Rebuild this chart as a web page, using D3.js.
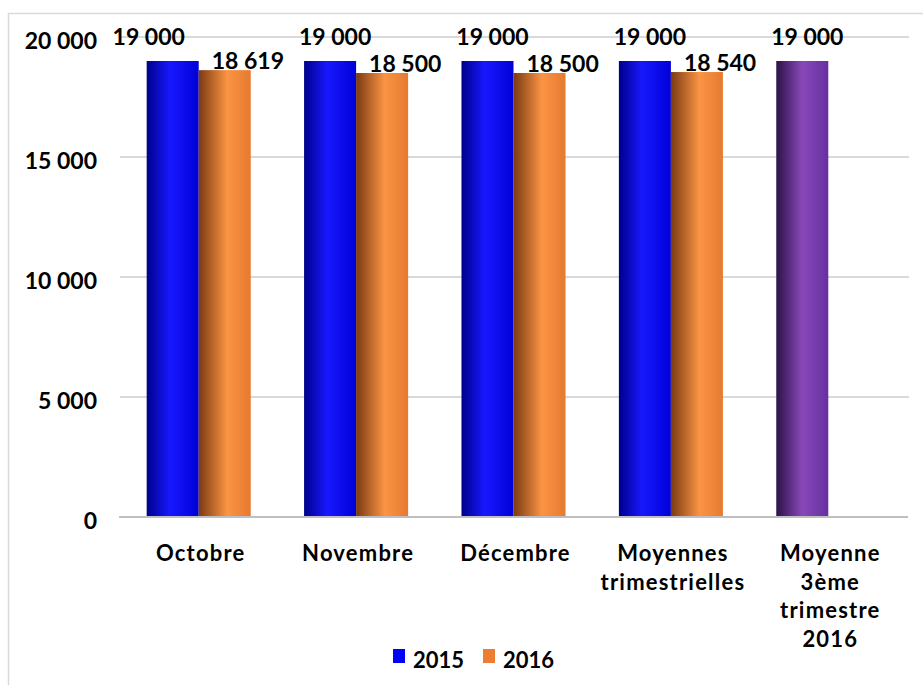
<!DOCTYPE html>
<html>
<head>
<meta charset="utf-8">
<script src="https://cdn.jsdelivr.net/npm/d3@7"></script>
<style>
  body { margin: 0; background: #fff; }
  text { font-family: Lato, "Noto Sans", sans-serif; font-weight: 700; fill: #000; }
</style>
</head>
<body>
<div id="chart"></div>
<script>
let categories = [["Octobre"], ["Novembre"], ["Décembre"], ["Moyennes", "trimestrielles"], ["Moyenne", "3ème", "trimestre", "2016"]],
    series = ["2015", "2016"],
    values2015 = [19000, 19000, 19000, 19000, 19000],
    values2016 = [18619, 18500, 18500, 18540, null],
    yTicks = [0, 5000, 10000, 15000, 20000];

let width = 923, height = 685;
let fmt = function (d) { return d3.format(",")(d).replace(/,/g, " "); };

let svg = d3.select("#chart").append("svg")
    .attr("width", width)
    .attr("height", height);

// gradients for the cylinder look
let defs = svg.append("defs");
function grad(id, stops) {
    let g = defs.append("linearGradient").attr("id", id)
        .attr("x1", "0%").attr("x2", "100%").attr("y1", "0%").attr("y2", "0%");
    stops.forEach(function (s) {
        g.append("stop").attr("offset", s[0]).attr("stop-color", s[1]);
    });
}
grad("gBlue", [["0%", "#00008c"], ["45%", "#1818ff"], ["100%", "#0000d8"]]);
grad("gOrange", [["0%", "#7a3a12"], ["55%", "#fb9444"], ["100%", "#e57a30"]]);
grad("gPurple", [["0%", "#2c1248"], ["50%", "#8848b8"], ["100%", "#6630a0"]]);

// outer frame
svg.append("rect")
    .attr("x", 8.5).attr("y", 13.5)
    .attr("width", 940).attr("height", 700)
    .attr("fill", "none").attr("stroke", "#d9d9d9").attr("stroke-width", 1.5);

let x = d3.scaleBand()
    .domain(d3.range(categories.length))
    .range([120, 907])
    .paddingInner(0.339)
    .paddingOuter(0.1695);

let xSub = d3.scaleBand().domain(series).range([0, x.bandwidth()]);

let y = d3.scaleLinear().domain([0, 20000]).range([517, 37]);

// gridlines
svg.append("g").selectAll("line")
    .data(yTicks.filter(function (d) { return d > 0; }))
    .enter().append("line")
    .attr("x1", 120).attr("x2", 909)
    .attr("y1", function (d) { return y(d); })
    .attr("y2", function (d) { return y(d); })
    .attr("stroke", "#d9d9d9").attr("stroke-width", 2);

// y labels
svg.append("g").selectAll("text")
    .data(yTicks)
    .enter().append("text")
    .attr("x", 97)
    .attr("y", function (d) { return y(d) + 12; })
    .attr("text-anchor", "end")
    .style("font-size", "23px")
    .text(fmt);

// bars
let groups = svg.append("g").selectAll("g")
    .data(categories)
    .enter().append("g")
    .attr("transform", function (d, i) { return "translate(" + x(i) + ",0)"; });

groups.each(function (d, i) {
    let g = d3.select(this);
    let last = i === categories.length - 1;
    let v1 = values2015[i], v2 = values2016[i];
    g.append("rect")
        .attr("x", xSub("2015"))
        .attr("y", y(v1))
        .attr("width", xSub.bandwidth())
        .attr("height", y(0) - y(v1))
        .attr("fill", last ? "url(#gPurple)" : "url(#gBlue)");
    // label nudges as in the original layout
    let dx1 = i === 0 ? -24 : 5;
    g.append("text")
        .attr("x", xSub("2015") + xSub.bandwidth() / 2 + dx1)
        .attr("y", y(v1) - 16)
        .attr("text-anchor", "middle")
        .style("font-size", "23px")
        .text(fmt(v1));
    if (v2 != null) {
        g.append("rect")
            .attr("x", xSub("2016"))
            .attr("y", y(v2))
            .attr("width", xSub.bandwidth())
            .attr("height", y(0) - y(v2))
            .attr("fill", "url(#gOrange)");
        g.append("text")
            .attr("x", xSub("2016") + 13)
            .attr("y", y(v2) - 1)
            .attr("text-anchor", "start")
            .style("font-size", "23px")
            .text(fmt(v2));
    }
});

// baseline
svg.append("line")
    .attr("x1", 119).attr("x2", 908)
    .attr("y1", y(0)).attr("y2", y(0))
    .attr("stroke", "#bfbfbf").attr("stroke-width", 2);

// category labels
let catLabels = svg.append("g").selectAll("text")
    .data(categories)
    .enter().append("text")
    .attr("text-anchor", "middle")
    .style("font-size", "22px")
    .style("letter-spacing", "1.2px")
    .attr("transform", function (d, i) { return "translate(" + (x(i) + x.bandwidth() / 2 + 2) + ",561)"; });

catLabels.selectAll("tspan")
    .data(function (d) { return d; })
    .enter().append("tspan")
    .attr("x", 0)
    .attr("y", function (d, i) { return i * 28.5; })
    .text(function (d) { return d; });

// legend
let legend = svg.append("g").selectAll("g")
    .data([["2015", "#0000ff", 393], ["2016", "#ed7d31", 483]])
    .enter().append("g")
    .attr("transform", function (d) { return "translate(" + d[2] + ",649)"; });

legend.append("rect")
    .attr("width", 12).attr("height", 14)
    .attr("fill", function (d) { return d[1]; });

legend.append("text")
    .attr("x", 20).attr("y", 19)
    .style("font-size", "22px")
    .text(function (d) { return d[0]; });
</script>
</body>
</html>
